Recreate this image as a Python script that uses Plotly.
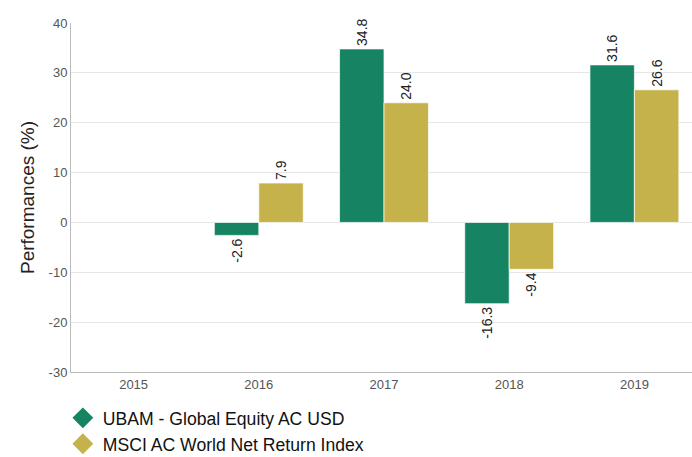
import plotly.graph_objects as go

years = ["2015", "2016", "2017", "2018", "2019"]
ubam = [None, -2.6, 34.8, -16.3, 31.6]
msci = [None, 7.9, 24.0, -9.4, 26.6]
names = ["UBAM - Global Equity AC USD", "MSCI AC World Net Return Index"]
colors = ["#168463", "#C5B24A"]
y_ticks = [-30, -20, -10, 0, 10, 20, 30, 40]
y_tick_labels = ["-30", "-20", "-10", "0", "10", "20", "30", "40"]

fig = go.Figure()
for name, vals, col in zip(names, [ubam, msci], colors):
    fig.add_trace(go.Bar(
        x=years, y=vals, name=name, showlegend=False,
        marker=dict(color=col, line=dict(color="rgba(255,255,255,0.7)", width=1)),
        text=[None if v is None else f"{v:.1f}" for v in vals],
        textposition="outside", textangle=-90, cliponaxis=False,
        textfont=dict(family="Liberation Sans, Arial", size=14, color="#222222"),
        hoverinfo="skip",
    ))
for name, col in zip(names, colors):
    fig.add_trace(go.Scatter(
        x=[None], y=[None], mode="markers", name=name,
        marker=dict(symbol="diamond", size=17, color=col),
    ))

fig.update_layout(
    width=697, height=457,
    margin=dict(l=71, r=0, t=23, b=85, autoexpand=False),
    paper_bgcolor="white", plot_bgcolor="white",
    barmode="group", bargap=0.29, bargroupgap=0,
    font=dict(family="Liberation Sans, Arial", color="#555555"),
    showlegend=True,
    legend=dict(orientation="v", x=-0.013, xanchor="left", y=-0.08, yanchor="top",
                font=dict(size=17.6, color="#111111"), tracegroupgap=0,
                itemsizing="trace", bgcolor="rgba(0,0,0,0)"),
    xaxis=dict(type="category", categoryorder="array", categoryarray=years,
               showgrid=False, showline=True, linecolor="#bbbbbb", linewidth=1,
               ticks="", tickfont=dict(size=13, color="#555555"), zeroline=False),
    yaxis=dict(range=[-30, 40], tickvals=y_ticks, ticktext=y_tick_labels,
               showgrid=True, gridcolor="#e6e6e6",
               zeroline=False, showline=True, linecolor="#bbbbbb", linewidth=1,
               ticks="", tickfont=dict(size=13, color="#555555"),
               title=dict(text="Performances (%)", font=dict(size=19, color="#222222"), standoff=8)),
)

fig.write_html("out.html", config={"displayModeBar": False},
               post_script="document.body.style.margin='0';document.body.style.overflow='hidden';")
